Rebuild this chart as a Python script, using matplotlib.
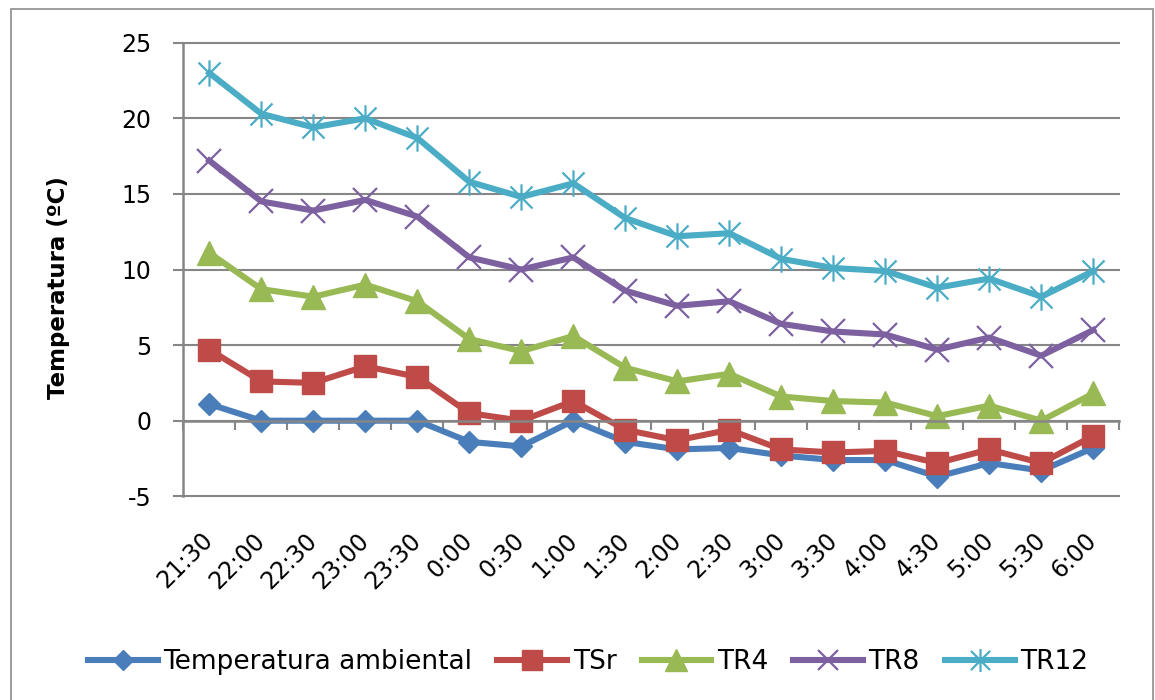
import matplotlib.pyplot as plt
from matplotlib.path import Path
from matplotlib.patches import Rectangle

plt.rcParams['axes.unicode_minus'] = False

# Data
horas = ['21:30', '22:00', '22:30', '23:00', '23:30', '0:00', '0:30', '1:00', '1:30',
         '2:00', '2:30', '3:00', '3:30', '4:00', '4:30', '5:00', '5:30', '6:00']
t_ambiente = [1.1, 0.0, 0.0, 0.0, 0.0, -1.4, -1.7, 0.0, -1.4,
              -1.9, -1.8, -2.3, -2.6, -2.6, -3.7, -2.8, -3.3, -1.8]
t_sr = [4.7, 2.6, 2.5, 3.6, 2.9, 0.5, 0.0, 1.3, -0.6,
        -1.3, -0.6, -1.9, -2.1, -2.0, -2.8, -1.9, -2.8, -1.0]
t_r4 = [11.1, 8.7, 8.2, 9.0, 7.9, 5.4, 4.6, 5.6, 3.5,
        2.6, 3.1, 1.6, 1.3, 1.2, 0.3, 1.0, 0.0, 1.8]
t_r8 = [17.2, 14.5, 13.9, 14.6, 13.5, 10.8, 10.0, 10.8, 8.6,
        7.6, 7.9, 6.4, 5.9, 5.7, 4.7, 5.5, 4.3, 6.0]
t_r12 = [23.0, 20.3, 19.4, 20.0, 18.7, 15.8, 14.8, 15.7, 13.4,
         12.2, 12.4, 10.7, 10.1, 9.9, 8.8, 9.4, 8.2, 9.9]

# asterisk marker (x plus vertical bar), like the Excel star marker
M, L = Path.MOVETO, Path.LINETO
star = Path([(-1, -1), (1, 1), (-1, 1), (1, -1), (0, -1.2), (0, 1.2)],
            [M, L, M, L, M, L])

grey = '#868686'
x = list(range(len(horas)))

fig = plt.figure(figsize=(11.55, 7), dpi=100)
ax = fig.add_axes([0.1587, 0.291, 0.8104, 0.648])

# outer chart border
fig.patches.append(Rectangle((11 / 1155, -0.02), 1142 / 1155, 1.0071, transform=fig.transFigure,
                             fill=False, edgecolor='#8c8c8c', linewidth=1.2))

lw = 4.4
ax.plot(x, t_ambiente, color='#4A7EBB', lw=lw, marker='D', ms=11.5, label='Temperatura ambiental')
ax.plot(x, t_sr, color='#BE4B48', lw=lw, marker='s', ms=16.5, label='TSr')
ax.plot(x, t_r4, color='#98B954', lw=lw, marker='^', ms=17.5, label='TR4')
ax.plot(x, t_r8, color='#7D60A0', lw=lw, marker='x', ms=17, mew=1.6, label='TR8')
ax.plot(x, t_r12, color='#4BACC6', lw=lw, marker=star, ms=19, mew=1.6, label='TR12')

ax.set_xlim(-0.5, len(horas) - 0.5)
ax.set_ylim(-5, 25)
ax.set_yticks(range(-5, 26, 5))
ax.yaxis.grid(True, color=grey, linewidth=1.5)
for t in ax.yaxis.get_major_ticks():
    t.gridline.set_clip_on(False)
ax.tick_params(axis='y', length=7, width=1.5, color=grey, pad=16, labelsize=17)

for s in ['top', 'right']:
    ax.spines[s].set_visible(False)
ax.spines['left'].set_color(grey)
ax.spines['left'].set_linewidth(1.8)
ax.spines['bottom'].set_position(('data', 0))
ax.spines['bottom'].set_color(grey)
ax.spines['bottom'].set_linewidth(1.8)

# category boundary ticks on the zero line
ax.set_xticks([i - 0.5 for i in range(len(horas) + 1)])
ax.set_xticklabels([])
ax.tick_params(axis='x', length=6.5, width=1.5, color=grey)

# time labels at the bottom of the plot area
sec = ax.secondary_xaxis('bottom')
sec.set_xticks(x)
sec.set_xticklabels(horas, fontsize=17)
sec.tick_params(length=0, pad=29)
sec.spines['bottom'].set_visible(False)
for lab in sec.get_xticklabels():
    lab.set_rotation(45)
    lab.set_ha('right')
    lab.set_va('center')
    lab.set_rotation_mode('anchor')

fig.text(58 / 1155, 1 - 288 / 700, 'Temperatura (ºC)', rotation=90, fontsize=16.5,
         fontweight='bold', ha='center', va='center')

fig.legend(loc='center', bbox_to_anchor=(588 / 1155, 1 - 662 / 700), ncol=5, frameon=False,
           fontsize=19, handlelength=2.65, handletextpad=0.2, columnspacing=0.95,
           markerscale=0.87)

fig.savefig('out.png', dpi=100)
